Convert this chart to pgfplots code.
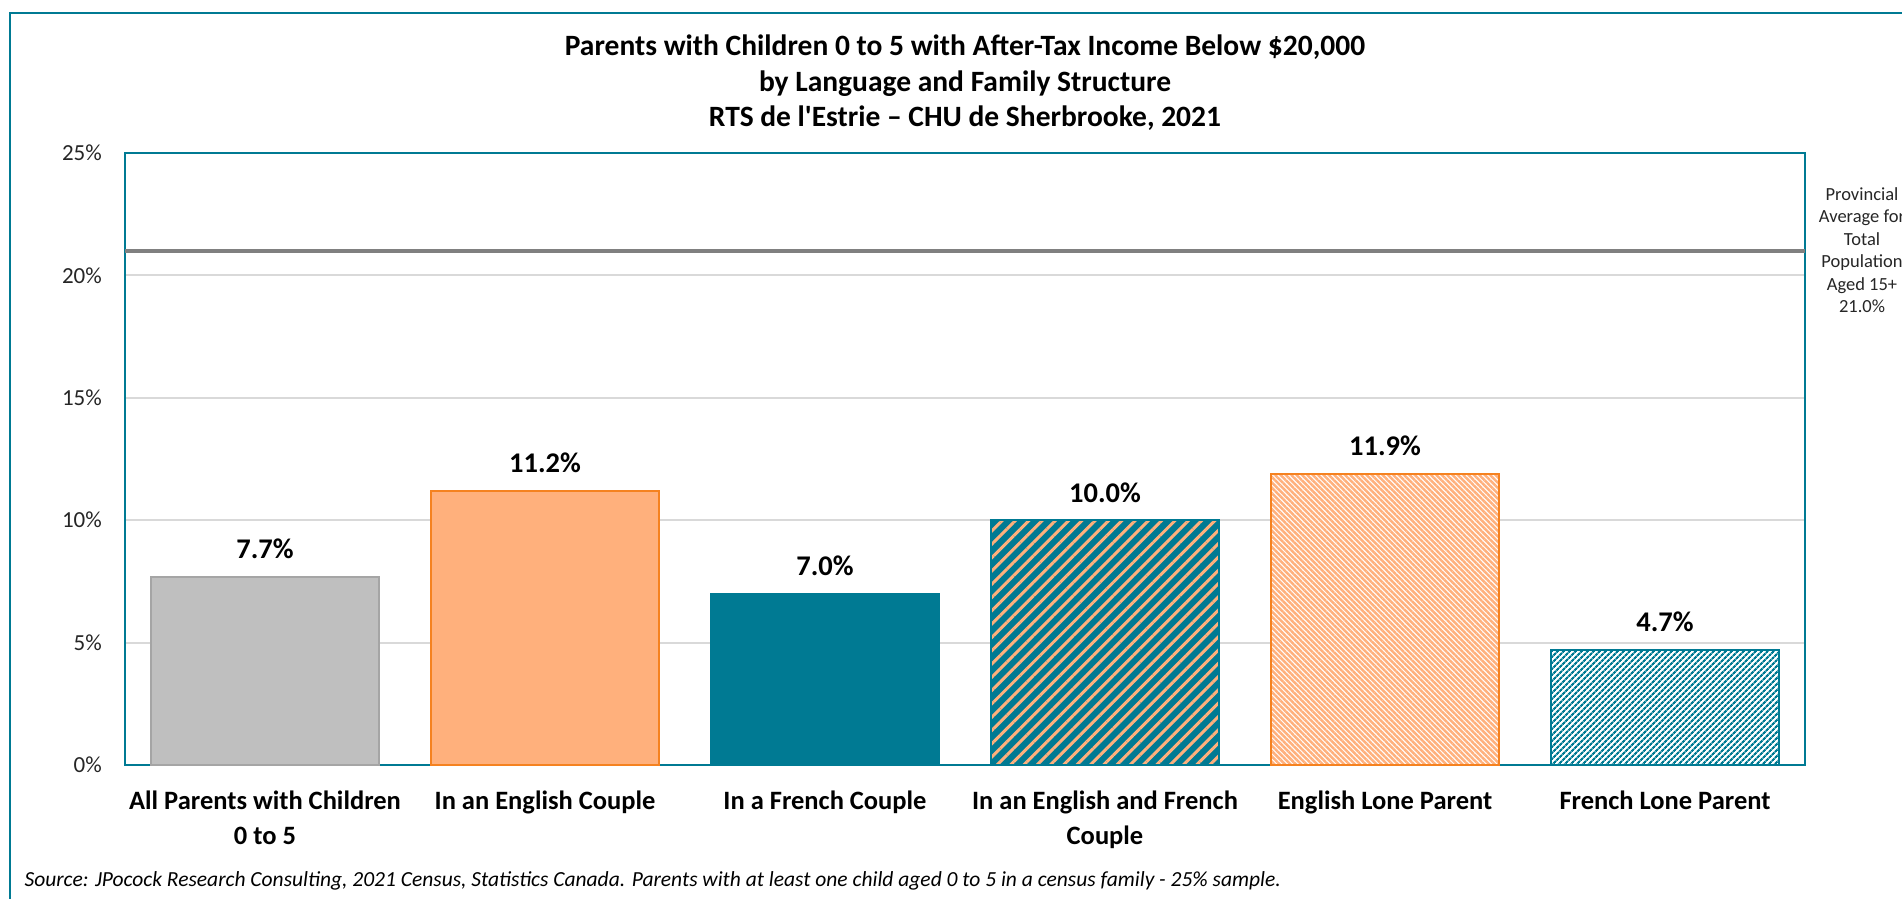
\documentclass[border=0pt]{standalone}
\usepackage{fontspec}
\setmainfont{Carlito}
\usepackage{pgfplots}
\pgfplotsset{compat=1.18}
\usetikzlibrary{patterns.meta}
\definecolor{teal}{RGB}{0,122,147}
\definecolor{orangeb}{RGB}{245,130,32}
\definecolor{orangef}{RGB}{255,176,124}
\definecolor{grayf}{RGB}{191,191,191}
\definecolor{grayb}{RGB}{165,165,165}
\definecolor{gridgray}{RGB}{217,217,217}
\definecolor{avggray}{RGB}{128,128,128}
\pgfplotsset{
  lbl/.style={
    nodes near coords={\pgfmathprintnumber[fixed,fixed zerofill,precision=1]{\pgfplotspointmeta}\%},
    every node near coord/.append style={font=\bfseries\fontsize{28.5}{30}\selectfont, text=black, anchor=base, yshift=18pt}
  },
  bb/.style={ybar, bar shift=0pt, bar width=228pt, line width=2pt, lbl}
}
\begin{document}
\begin{tikzpicture}
\useasboundingbox (0,0) rectangle (1902pt,898pt);
\clip (0,0) rectangle (1902pt,898pt);
\fill[white] (0,0) rectangle (1902pt,898pt);
\draw[teal, line width=2.5pt] (10pt,-20pt) -- (10pt,885pt) -- (1930pt,885pt);
\node[anchor=base, font=\bfseries\fontsize{29.5}{32}\selectfont] at (965pt,842pt) {Parents with Children 0 to 5 with After-Tax Income Below \$20,000};
\node[anchor=base, font=\bfseries\fontsize{29.5}{32}\selectfont] at (965pt,806.5pt) {by Language and Family Structure};
\node[anchor=base, font=\bfseries\fontsize{29.5}{32}\selectfont] at (965pt,771pt) {RTS de l\textquotesingle Estrie – CHU de Sherbrooke, 2021};
\node[anchor=base west, font=\itshape\fontsize{21.5}{24}\selectfont] at (21pt,12pt) {Source: JPocock Research Consulting, 2021 Census, Statistics Canada. Parents with at least one child aged 0 to 5 in a census family - 25\% sample.};
\begin{axis}[
  at={(125pt,133pt)}, anchor=south west,
  scale only axis, width=1680pt, height=612pt,
  xmin=-0.5, xmax=5.5, ymin=0, ymax=25,
  clip=false,
  /pgf/number format/assume math mode=true,
  ytick={0,5,10,15,20,25},
  yticklabel={\pgfmathprintnumber{\tick}\%},
  yticklabel style={font=\fontsize{23}{26}\selectfont, text=black!85, inner sep=0pt, xshift=-23pt},
  xtick={0,1,2,3,4,5},
  xticklabels={{All Parents with Children\\0 to 5},{In an English Couple},{In a French Couple},{In an English and French\\Couple},{English Lone Parent},{French Lone Parent}},
  xticklabel style={align=center, font=\bfseries\fontsize{26.5}{35}\selectfont, text=black, inner sep=0pt, yshift=-26pt},
  major tick length=0pt,
  tick style={draw=none},
  axis line style={draw=teal, line width=2pt},
  ymajorgrids, major grid style={draw=gridgray, line width=2pt},
]
\addplot[bb, draw=grayb, fill=grayf] coordinates {(0,7.7)};
\addplot[bb, draw=orangeb, fill=orangef] coordinates {(1,11.2)};
\addplot[bb, draw=teal, fill=teal] coordinates {(2,7.0)};
\addplot[bb, draw=teal, preaction={fill=teal}, preaction={pattern={Lines[angle=45,distance=9.4pt,line width=3pt]}, pattern color=orangef}] coordinates {(3,10.0)};
\addplot[bb, draw=orangeb, preaction={fill=white}, preaction={pattern={Lines[angle=-45,distance=3.8pt,line width=2.5pt]}, pattern color=orangef}] coordinates {(4,11.9)};
\addplot[bb, draw=teal, preaction={fill=white}, preaction={pattern={Lines[angle=45,distance=4pt,line width=2.3pt]}, pattern color=teal}] coordinates {(5,4.7)};
\addplot[avggray, line width=4.5pt, forget plot] coordinates {(-0.5,21) (5.5,21)};
\node[align=center, font=\fontsize{18.5}{22.5}\selectfont, text=black!85, anchor=center, xshift=57pt, yshift=1pt] at (axis cs:5.5,21) {Provincial\\Average for\\Total\\Population\\Aged 15+\\21.0\%};
\end{axis}
\end{tikzpicture}
\end{document}
